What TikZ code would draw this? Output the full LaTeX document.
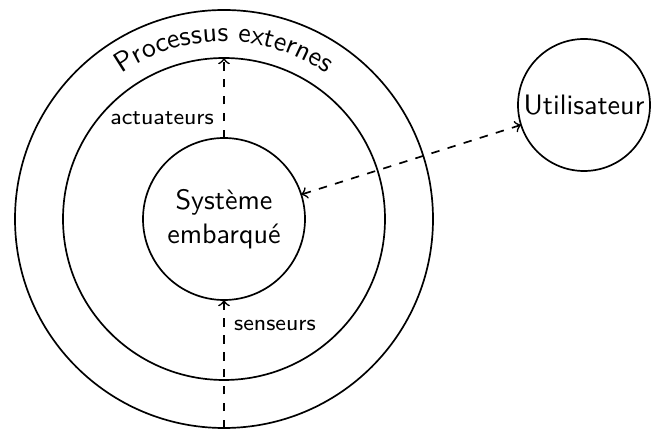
\documentclass[tikz,border=0pt]{standalone}
\usetikzlibrary{decorations.text}
\renewcommand{\familydefault}{\sfdefault}

\begin{document}
\begin{tikzpicture}[line width=0.6pt,
    ring/.style={circle,draw,inner sep=0pt,outer sep=0pt}]
      \useasboundingbox (-2.8,-2.6375) rectangle (5.375,2.7375);
      % Draw the rings
      \node (outer) [ring,minimum size=5.225cm] at (0,0) {};
      \node (middle) [ring,minimum size=4.025cm] at (0,0) {};
      % Draw the system and the user
      \node (sys) [ring,minimum size=2.025cm,align=center] at (0,0) {Système\\embarqué};
      \node (user) [ring,minimum size=1.65cm] at (4.5,1.425) {Utilisateur};
      % Draw the curved title
      \path [decorate,decoration={text along path,text align=center,
        text={Processus externes}}] (155:2.22) arc (155:25:2.22);
      % Draw the arrows
      \draw [->,dashed] (sys.north) -- (middle.north)
        node [pos=0.25,left] {\footnotesize actuateurs};
      \draw [->,dashed] (outer.south) -- (sys.south)
        node [pos=0.8,right] {\footnotesize senseurs};
      \draw [<->,dashed] (sys) -- (user);
    \end{tikzpicture}
\end{document}
